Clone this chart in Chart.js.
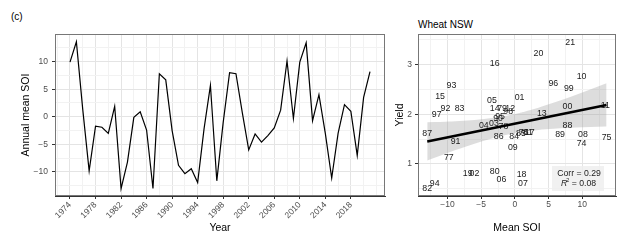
<!DOCTYPE html>
<html>
<head>
<meta charset="utf-8">
<script src="https://cdn.jsdelivr.net/npm/chart.js@4.4.1/dist/chart.umd.min.js"></script>
<style>
    body { margin: 0; background: #fff; width: 627px; height: 244px; position: relative; overflow: hidden;
           font-family: "Liberation Sans", Arial, sans-serif; }
    #panelTag { position: absolute; left: 11px; top: 12px; font-size: 10px; line-height: 1; color: #000; }
    #wheatTitle { position: absolute; left: 418px; top: 20px; font-size: 10px; line-height: 1; color: #000; }
    canvas { position: absolute; top: 0; }
</style>
</head>
<body>
<div id="panelTag">(c)</div>
<div id="wheatTitle">Wheat NSW</div>
<canvas id="soiChart" width="395" height="244" style="left:0"></canvas>
<canvas id="yieldChart" width="237" height="244" style="left:390px"></canvas>
<script>
// Annual mean SOI per year, and NSW wheat yield for the same year
const years = [1974, 1975, 1976, 1977, 1978, 1979, 1980, 1981, 1982, 1983,
               1984, 1985, 1986, 1987, 1988, 1989, 1990, 1991, 1992, 1993,
               1994, 1995, 1996, 1997, 1998, 1999, 2000, 2001, 2002, 2003,
               2004, 2005, 2006, 2007, 2008, 2009, 2010, 2011, 2012, 2013,
               2014, 2015, 2016, 2017, 2018, 2019, 2020, 2021];
const meanSoi = [9.9, 13.6, 1.3, -9.8, -1.7, -1.9, -3.0, 1.9, -13.0, -8.2,
                 -0.1, 0.9, -2.4, -13.0, 7.8, 6.7, -2.5, -8.8, -10.3, -9.4,
                 -11.9, -2.2, 5.7, -11.6, -1.0, 8.0, 7.8, 0.7, -6.0, -3.1,
                 -4.6, -3.4, -2.0, 1.2, 10.1, -0.3, 9.9, 13.4, -0.7, 4.0,
                 -3.0, -11.1, -3.0, 2.2, 1.0, -7.0, 3.5, 8.2];
const wheatYield = [1.42, 1.54, 1.63, 1.13, 1.75, 2.12, 0.84, 1.63, 0.50, 2.12,
                    1.55, 1.62, 1.55, 1.61, 1.77, 1.59, 1.91, 1.45, 2.12, 2.58,
                    0.61, 1.95, 2.63, 2.00, 2.06, 2.52, 2.15, 2.33, 0.81, 1.81,
                    1.77, 2.28, 0.69, 0.61, 1.60, 1.33, 2.76, 2.18, 2.12, 2.02,
                    2.11, 2.35, 3.02, 1.64, 0.78, 0.81, 3.22, 3.45];
const yearLabels = years.map(y => String(y).slice(2));

// axis breaks
const yearTicks = [1974, 1978, 1982, 1986, 1990, 1994, 1998, 2002, 2006, 2010, 2014, 2018];
const yearMinor = [1972, 1976, 1980, 1984, 1988, 1992, 1996, 2000, 2004, 2008, 2012, 2016, 2020, 2022];
const soiTicks = [-10, -5, 0, 5, 10];
const soiMinor = [-12.5, -7.5, -2.5, 2.5, 7.5, 12.5];
const yieldTicks = [1, 2, 3];
const yieldMinor = [0.5, 1.5, 2.5, 3.5];
const statLines = ['Corr = 0.29', '= 0.08'];

const MAJOR_GRID = '#e4e4e4';
const MINOR_GRID = '#f2f2f2';
const TICK_TEXT = '#4d4d4d';

Chart.defaults.font.family = '"Liberation Sans", Arial, sans-serif';

const minusFmt = v => (v < 0 ? '\u2212' + Math.abs(v) : String(v));

function gridAxis(major, minor, extra) {
    const all = major.concat(minor).sort((a, b) => a - b);
    const isMajor = v => major.includes(v);
    return Object.assign({
        type: 'linear',
        afterBuildTicks: s => { s.ticks = all.map(v => ({ value: v })); },
        grid: {
            color: c => (isMajor(c.tick.value) ? MAJOR_GRID : MINOR_GRID),
            tickColor: c => (isMajor(c.tick.value) ? '#333' : 'rgba(0,0,0,0)'),
            tickLength: 3
        },
        border: { display: true, color: '#333', width: 1 },
        ticks: {
            autoSkip: false,
            color: TICK_TEXT,
            font: { size: 8.5 },
            callback: v => (isMajor(v) ? minusFmt(v) : '')
        }
    }, extra);
}

const panelBorder = {
    id: 'panelBorder',
    afterDraw(chart) {
        const { ctx, chartArea: a } = chart;
        ctx.save();
        ctx.strokeStyle = '#777';
        ctx.lineWidth = 1;
        ctx.strokeRect(Math.round(a.left) + 0.5, Math.round(a.top) + 0.5,
                       Math.round(a.right - a.left) - 1, Math.round(a.bottom - a.top) - 1);
        ctx.restore();
    }
};

// ---- left panel: SOI time series ----
new Chart(document.getElementById('soiChart'), {
    type: 'line',
    data: {
        datasets: [{
            data: years.map((y, i) => ({ x: y, y: meanSoi[i] })),
            borderColor: '#000',
            borderWidth: 1.2,
            pointRadius: 0,
            tension: 0,
            fill: false
        }]
    },
    options: {
        responsive: false,
        animation: false,
        devicePixelRatio: 1,
        layout: { padding: { left: 0, right: 10, top: 34, bottom: 0 } },
        plugins: { legend: { display: false }, tooltip: { enabled: false } },
        scales: {
            x: gridAxis(yearTicks, yearMinor, {
                min: 1971.65, max: 2023.35,
                afterFit: s => { s.height = 48; },
                title: { display: true, text: 'Year', color: '#000', font: { size: 10.5 }, padding: { top: 0, bottom: 10 } }
            }),
            y: gridAxis(soiTicks, soiMinor, {
                min: -14.35, max: 15.0,
                afterFit: s => { s.width = 55; },
                title: { display: true, text: 'Annual mean SOI', color: '#000', font: { size: 10.5 }, padding: { top: 20, bottom: 0 } }
            })
        }
    },
    plugins: [panelBorder]
});
// rotate year labels
Chart.getChart('soiChart').options.scales.x.ticks.minRotation = 45;
Chart.getChart('soiChart').options.scales.x.ticks.maxRotation = 45;
Chart.getChart('soiChart').options.scales.x.ticks.padding = 1;
Chart.getChart('soiChart').options.scales.y.ticks.padding = 4;
Chart.getChart('soiChart').update();

// ---- right panel: yield vs SOI with linear fit ----
function linearFit(xs, ys) {
    const n = xs.length;
    const mx = xs.reduce((a, b) => a + b, 0) / n;
    const my = ys.reduce((a, b) => a + b, 0) / n;
    let sxx = 0, sxy = 0;
    xs.forEach((x, i) => { sxx += (x - mx) ** 2; sxy += (x - mx) * (ys[i] - my); });
    const slope = sxy / sxx;
    const intercept = my - slope * mx;
    let sse = 0;
    xs.forEach((x, i) => { sse += (ys[i] - intercept - slope * x) ** 2; });
    const s = Math.sqrt(sse / (n - 2));
    return { slope, intercept, s, mx, sxx, n };
}

const fit = linearFit(meanSoi, wheatYield);
const T_CRIT = 2.013; // t(0.975, 46)
const sortedSoi = meanSoi.slice().sort((a, b) => a - b);
const fitAt = x => fit.intercept + fit.slope * x;
const halfBand = x => T_CRIT * fit.s * Math.sqrt(1 / fit.n + (x - fit.mx) ** 2 / fit.sxx);

// year labels go on top of the band but under the fit line
const yearTextPlugin = {
    id: 'yearText',
    afterDatasetDraw(chart, args) {
        if (args.index !== 1) return;
        const { ctx, scales: { x, y } } = chart;
        ctx.save();
        ctx.font = '8.8px "Liberation Sans", Arial, sans-serif';
        ctx.fillStyle = '#1a1a1a';
        ctx.textAlign = 'center';
        ctx.textBaseline = 'middle';
        yearLabels.forEach((t, i) => {
            ctx.fillText(t, x.getPixelForValue(meanSoi[i]), y.getPixelForValue(wheatYield[i]));
        });
        ctx.restore();
    }
};

const statBoxPlugin = {
    id: 'statBox',
    afterDatasetsDraw(chart) {
        const { ctx, chartArea: a } = chart;
        const w = 52, h = 25;
        const left = a.right - 12 - w, top = a.bottom - 5 - h;
        const cx = left + w / 2;
        ctx.save();
        ctx.fillStyle = 'rgba(238,238,238,0.8)';
        ctx.fillRect(left, top, w, h);
        ctx.fillStyle = '#1a1a1a';
        ctx.textBaseline = 'middle';
        ctx.font = '8.7px "Liberation Sans", Arial, sans-serif';
        ctx.textAlign = 'center';
        ctx.fillText(statLines[0], cx + 1, top + 7.5);
        // second line: italic R, superscript 2, then value
        const italic = 'italic 8.7px "Liberation Sans", Arial, sans-serif';
        const sup = '5.5px "Liberation Sans", Arial, sans-serif';
        const normal = '8.7px "Liberation Sans", Arial, sans-serif';
        ctx.font = italic; const wR = ctx.measureText('R').width;
        ctx.font = sup; const w2 = ctx.measureText('2').width;
        ctx.font = normal; const wRest = ctx.measureText(' ' + statLines[1]).width;
        let x0 = cx + 1 - (wR + w2 + wRest) / 2;
        const yy = top + 17.5;
        ctx.textAlign = 'left';
        ctx.font = italic; ctx.fillText('R', x0, yy); x0 += wR - 1;
        ctx.font = sup; ctx.fillText('2', x0, yy - 3); x0 += w2;
        ctx.font = normal; ctx.fillText(' ' + statLines[1], x0, yy);
        ctx.restore();
    }
};

new Chart(document.getElementById('yieldChart'), {
    type: 'line',
    data: {
        datasets: [
            {
                data: [sortedSoi[0], sortedSoi[sortedSoi.length - 1]].map(x => ({ x, y: fitAt(x) })),
                borderColor: '#000', borderWidth: 2.6, pointRadius: 0, fill: false
            },
            {
                data: sortedSoi.map(x => ({ x, y: fitAt(x) - halfBand(x) })),
                borderColor: 'rgba(0,0,0,0)', borderWidth: 0, pointRadius: 0, fill: false
            },
            {
                data: sortedSoi.map(x => ({ x, y: fitAt(x) + halfBand(x) })),
                borderColor: 'rgba(0,0,0,0)', borderWidth: 0, pointRadius: 0,
                fill: '-1', backgroundColor: 'rgba(153,153,153,0.33)'
            },
            {
                data: meanSoi.map((x, i) => ({ x, y: wheatYield[i] })),
                showLine: false, pointRadius: 0
            }
        ]
    },
    options: {
        responsive: false,
        animation: false,
        devicePixelRatio: 1,
        layout: { padding: { left: 0, right: 11, top: 34, bottom: 0 } },
        plugins: { legend: { display: false }, tooltip: { enabled: false } },
        scales: {
            x: gridAxis(soiTicks, soiMinor, {
                min: -14.37, max: 15.0,
                afterFit: s => { s.height = 48; },
                title: { display: true, text: 'Mean SOI', color: '#000', font: { size: 10.5 }, padding: { top: 0, bottom: 10 } }
            }),
            y: gridAxis(yieldTicks, yieldMinor, {
                min: 0.354, max: 3.62,
                afterFit: s => { s.width = 28; },
                title: { display: true, text: 'Yield', color: '#000', font: { size: 10.5 }, padding: { top: 3.5, bottom: 0 } }
            })
        }
    },
    plugins: [yearTextPlugin, statBoxPlugin, panelBorder]
});
Chart.getChart('yieldChart').options.scales.x.ticks.maxRotation = 0;
Chart.getChart('yieldChart').options.scales.x.ticks.padding = 1;
Chart.getChart('yieldChart').options.scales.y.ticks.padding = 3;
Chart.getChart('yieldChart').update();
</script>
</body>
</html>
